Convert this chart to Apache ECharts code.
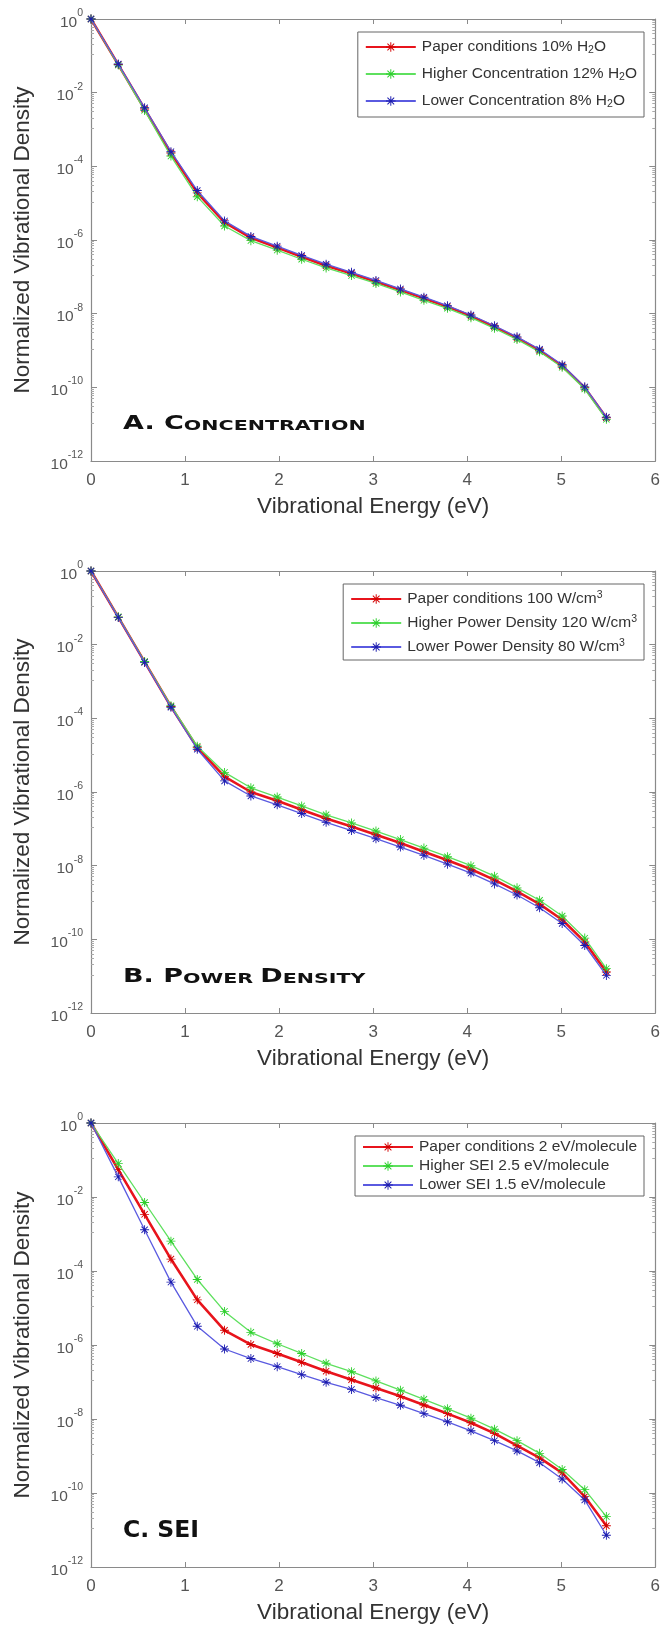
<!DOCTYPE html>
<html><head><meta charset="utf-8">
<script src="https://cdn.jsdelivr.net/npm/echarts@6/dist/echarts.min.js"></script>
<style>html,body{margin:0;padding:0;background:#fff}#c{width:663px;height:1631px}</style>
</head><body><div id="c"></div>
<script>
// Vibrational energy levels (eV)
const energy = [0, 0.29, 0.57, 0.85, 1.13, 1.42, 1.70, 1.98, 2.24, 2.50, 2.77, 3.03, 3.29, 3.54, 3.79, 4.04, 4.29, 4.53, 4.77, 5.01, 5.25, 5.48];

// A. Concentration
const concPaper = [1, 5.8e-2, 3.6e-3, 2.3e-4, 1.9e-5, 3.0e-6, 1.15e-6, 6.2e-7, 3.5e-7, 2.0e-7, 1.23e-7, 7.4e-8, 4.4e-8, 2.6e-8, 1.55e-8, 8.6e-9, 4.4e-9, 2.2e-9, 1.0e-9, 3.8e-10, 9.8e-11, 1.5e-11];
const concHigh  = [1, 5.6e-2, 3.3e-3, 1.9e-4, 1.5e-5, 2.4e-6, 9.6e-7, 5.3e-7, 3.0e-7, 1.75e-7, 1.08e-7, 6.6e-8, 3.9e-8, 2.3e-8, 1.4e-8, 7.8e-9, 4.0e-9, 2.0e-9, 9.2e-10, 3.5e-10, 9.0e-11, 1.35e-11];
const concLow   = [1, 6.0e-2, 3.9e-3, 2.5e-4, 2.2e-5, 3.3e-6, 1.25e-6, 6.8e-7, 3.8e-7, 2.2e-7, 1.33e-7, 8.0e-8, 4.7e-8, 2.8e-8, 1.65e-8, 9.2e-9, 4.7e-9, 2.35e-9, 1.08e-9, 4.1e-10, 1.03e-10, 1.55e-11];

// B. Power density
const powPaper = [1, 5.6e-2, 3.4e-3, 2.1e-4, 1.6e-5, 2.6e-6, 1.0e-6, 5.8e-7, 3.3e-7, 1.9e-7, 1.15e-7, 6.9e-8, 4.1e-8, 2.4e-8, 1.4e-8, 8.0e-9, 4.1e-9, 2.0e-9, 9.0e-10, 3.4e-10, 8.5e-11, 1.3e-11];
const powHigh  = [1, 5.7e-2, 3.5e-3, 2.2e-4, 1.75e-5, 3.4e-6, 1.3e-6, 7.3e-7, 4.2e-7, 2.4e-7, 1.45e-7, 8.7e-8, 5.1e-8, 3.0e-8, 1.75e-8, 1.0e-8, 5.2e-9, 2.5e-9, 1.15e-9, 4.3e-10, 1.08e-10, 1.6e-11];
const powLow   = [1, 5.5e-2, 3.3e-3, 2.0e-4, 1.45e-5, 2.0e-6, 7.8e-7, 4.5e-7, 2.6e-7, 1.5e-7, 9.0e-8, 5.4e-8, 3.2e-8, 1.9e-8, 1.1e-8, 6.3e-9, 3.2e-9, 1.6e-9, 7.2e-10, 2.7e-10, 6.8e-11, 1.05e-11];

// C. SEI
const seiPaper = [1, 5.5e-2, 3.4e-3, 2.1e-4, 1.66e-5, 2.5e-6, 1.03e-6, 5.9e-7, 3.4e-7, 1.96e-7, 1.15e-7, 6.9e-8, 4.1e-8, 2.4e-8, 1.4e-8, 7.9e-9, 4.1e-9, 1.9e-9, 8.9e-10, 3.5e-10, 8.0e-11, 1.3e-11];
const seiHigh  = [1, 8.0e-2, 7.1e-3, 6.4e-4, 5.9e-5, 8.1e-6, 2.2e-6, 1.08e-6, 5.9e-7, 3.2e-7, 1.9e-7, 1.07e-7, 6.0e-8, 3.4e-8, 1.9e-8, 1.05e-8, 5.3e-9, 2.6e-9, 1.18e-9, 4.3e-10, 1.23e-10, 2.3e-11];
const seiLow   = [1, 3.5e-2, 1.3e-3, 5.0e-5, 3.2e-6, 7.8e-7, 4.3e-7, 2.6e-7, 1.58e-7, 9.8e-8, 6.3e-8, 3.8e-8, 2.35e-8, 1.4e-8, 8.4e-9, 4.8e-9, 2.6e-9, 1.37e-9, 6.6e-10, 2.4e-10, 6.5e-11, 7.2e-12];

const namesA = ['Paper conditions 10% H2O', 'Higher Concentration 12% H2O', 'Lower Concentration 8% H2O'];
const namesB = ['Paper conditions 100 W/cm3', 'Higher Power Density 120 W/cm3', 'Lower Power Density 80 W/cm3'];
const namesC = ['Paper conditions 2 eV/molecule', 'Higher SEI 2.5 eV/molecule', 'Lower SEI 1.5 eV/molecule'];

const xTitle = 'Vibrational Energy (eV)';
const yTitle = 'Normalized Vibrational Density';

const asterisk = 'path://M-1,-10L1,-10L1,10L-1,10Z M-10,-1L10,-1L10,1L-10,1Z M-7.7,-6.3L-6.3,-7.7L7.7,6.3L6.3,7.7Z M6.3,-7.7L7.7,-6.3L-6.3,7.7L-7.7,6.3Z';

const styles = [
  {line: '#e8141c', mark: '#d40000', width: 2.6, size: 9},
  {line: '#5ee05e', mark: '#2ccf2c', width: 1.3, size: 9},
  {line: '#5a5ae0', mark: '#1c1cae', width: 1.3, size: 9}
];

const grids = [
  {left: 91, top: 19, width: 566, height: 442},
  {left: 91, top: 571, width: 566, height: 442},
  {left: 91, top: 1123, width: 566, height: 444}
];

const axisColor = '#8a8a8a';
const xAxes = [], yAxes = [], series = [];
const panels = [
  {names: namesA, data: [concPaper, concHigh, concLow]},
  {names: namesB, data: [powPaper, powHigh, powLow]},
  {names: namesC, data: [seiPaper, seiHigh, seiLow]}
];

panels.forEach((p, gi) => {
  xAxes.push({
    type: 'value', gridIndex: gi, min: 0, max: 6, interval: 1, position: 'bottom',
    axisLine: {show: true, lineStyle: {color: axisColor, width: 1.2}},
    axisTick: {show: true, inside: true, length: 5, lineStyle: {color: axisColor}},
    axisLabel: {show: true, color: '#555', fontSize: 17, fontFamily: 'Liberation Sans, Arial', margin: 11},
    splitLine: {show: false},
    name: xTitle, nameLocation: 'middle', nameGap: 34,
    nameTextStyle: {color: '#333', fontSize: 22.5, fontFamily: 'Liberation Sans, Arial'}
  });
  xAxes.push({
    type: 'value', gridIndex: gi, min: 0, max: 6, interval: 1, position: 'top',
    axisLine: {show: true, onZero: false, lineStyle: {color: axisColor, width: 1.2}},
    axisTick: {show: true, inside: true, length: 5, lineStyle: {color: axisColor}},
    axisLabel: {show: false}, splitLine: {show: false}
  });
  const yBase = {
    type: 'log', logBase: 100, gridIndex: gi, min: 1e-12, max: 1,
    splitLine: {show: false},
    minorTick: {show: true, splitNumber: 10, length: 3, lineStyle: {color: '#aaa'}},
    minorSplitLine: {show: false}
  };
  yAxes.push(Object.assign({}, yBase, {
    position: 'left',
    axisLine: {show: true, lineStyle: {color: axisColor, width: 1.2}},
    axisTick: {show: true, inside: true, length: 6, lineStyle: {color: axisColor}},
    axisLabel: {
      show: true, margin: 8,
      formatter: v => '{b|10}{s|' + Math.round(Math.log10(v)) + '}',
      rich: {
        b: {fontSize: 15.5, color: '#555', fontFamily: 'Liberation Sans, Arial', padding: [7, 0, 0, 0]},
        s: {fontSize: 10.5, color: '#555', fontFamily: 'Liberation Sans, Arial', verticalAlign: 'top', lineHeight: 11}
      }
    },
    name: yTitle, nameLocation: 'middle', nameGap: 57, nameRotate: 90,
    nameTextStyle: {color: '#333', fontSize: 22.5, fontFamily: 'Liberation Sans, Arial'}
  }));
  yAxes.push(Object.assign({}, yBase, {
    position: 'right',
    axisLine: {show: true, onZero: false, lineStyle: {color: axisColor, width: 1.2}},
    axisTick: {show: true, inside: true, length: 6, lineStyle: {color: axisColor}},
    axisLabel: {show: false}
  }));
  p.names.forEach((nm, si) => {
    const st = styles[si];
    series.push({
      type: 'line', name: nm, xAxisIndex: gi * 2, yAxisIndex: gi * 2,
      data: energy.map((e, k) => [e, p.data[si][k]]),
      symbol: asterisk, symbolSize: st.size, showSymbol: true,
      lineStyle: {color: st.line, width: st.width},
      itemStyle: {color: st.mark},
      z: 2 + si, animation: false
    });
  });
});

const legRich = {
  n: {fontSize: 15.5, color: '#333', fontFamily: 'Liberation Sans, Arial', lineHeight: 18},
  sub: {fontSize: 10.5, color: '#333', fontFamily: 'Liberation Sans, Arial', verticalAlign: 'bottom', lineHeight: 10},
  sup: {fontSize: 10.5, color: '#333', fontFamily: 'Liberation Sans, Arial', verticalAlign: 'top', lineHeight: 10}
};
function legFmt(name) {
  if (name.indexOf('H2O') >= 0) return '{n|' + name.replace('H2O', 'H}{sub|2}{n|O') + '}';
  if (/cm3$/.test(name)) return '{n|' + name.slice(0, -1) + '}{sup|3}';
  return '{n|' + name + '}';
}
function mkLegend(names, top, gap, pad) {
  return {
    data: names, orient: 'vertical', right: 19, top: top, itemGap: gap,
    padding: pad, itemWidth: 50, itemHeight: 12,
    borderColor: '#666', borderWidth: 1, backgroundColor: '#fff',
    formatter: legFmt, textStyle: {rich: legRich, padding: [0, 0, 0, 1]}, selectedMode: false
  };
}

function panelLabel(x, y, big1, small1, big2, small2) {
  let t = '{L|' + big1 + '}{s|' + small1 + '}';
  if (big2) t += '{L|' + big2 + '}{s|' + small2 + '}';
  return {
    type: 'text', x: x, y: y, scaleX: 1.42, z: 10,
    style: {
      text: t, verticalAlign: 'middle', fill: '#111',
      rich: {
        L: {fontSize: 19, fontWeight: 'bold', fontFamily: 'DejaVu Sans', verticalAlign: 'bottom', lineHeight: 19, fill: '#111'},
        s: {fontSize: 14.5, fontWeight: 'bold', fontFamily: 'DejaVu Sans', verticalAlign: 'bottom', lineHeight: 14.5, fill: '#111'}
      }
    }
  };
}

const option = {
  backgroundColor: '#fff',
  animation: false,
  grid: grids,
  xAxis: xAxes,
  yAxis: yAxes,
  legend: [
    mkLegend(namesA, 32, 10, [7, 7, 7, 7]),
    mkLegend(namesB, 584, 7, [6, 7, 5, 7]),
    mkLegend(namesC, 1136, 3, [3, 7, 3, 7])
  ],
  graphic: [
    panelLabel(123, 424, 'A. C', 'ONCENTRATION'),
    panelLabel(123, 977, 'B. P', 'OWER ', 'D', 'ENSITY'),
    {type: 'text', x: 123, y: 1531, z: 10,
     style: {text: 'C. SEI', fill: '#111', font: 'bold 23.5px "DejaVu Sans"', verticalAlign: 'middle'}}
  ],
  series: series
};
const chart = echarts.init(document.getElementById('c'), null, {renderer: 'canvas'});
chart.setOption(option);
</script>
</body></html>
